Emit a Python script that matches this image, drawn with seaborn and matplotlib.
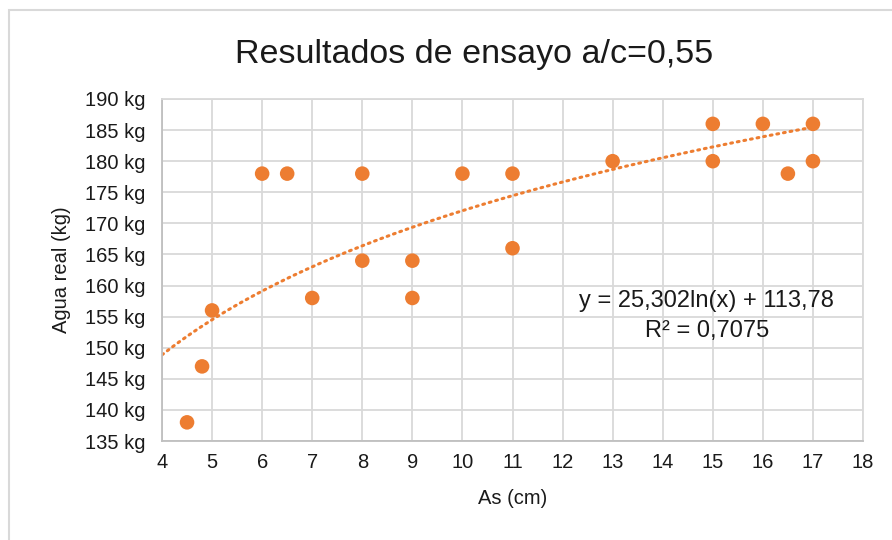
import numpy as np
import pandas as pd
import matplotlib
matplotlib.use("Agg")
import matplotlib.pyplot as plt
import seaborn as sns
from matplotlib.patches import Rectangle

# Data
as_cm = [4.5, 4.8, 5, 6, 6.5, 7, 8, 8, 9, 9, 10, 11, 11, 13, 15, 15, 16, 16.5, 17, 17]
agua_kg = [138, 147, 156, 178, 178, 158, 178, 164, 164, 158, 178, 178, 166, 180, 186, 180, 186, 178, 186, 180]

# Logarithmic trendline as reported on the chart
trend_a = 25.302
trend_b = 113.78
trend_r2 = 0.7075

x_ticks = list(range(4, 19))
y_ticks = list(range(135, 191, 5))

orange = "#ED7D31"

sns.set_theme(style="white")
plt.rcParams["font.family"] = ["Liberation Sans", "DejaVu Sans"]

fig = plt.figure(figsize=(8.92, 5.40), dpi=100)
ax = fig.add_axes([162 / 892, 1 - 441 / 540, (863 - 162) / 892, (441 - 99) / 540])

df = pd.DataFrame({"As": as_cm, "Agua": agua_kg})
sns.scatterplot(data=df, x="As", y="Agua", ax=ax, color=orange, s=110,
                edgecolor="none", zorder=3)

xt = np.linspace(4, max(as_cm), 200)
ax.plot(xt, trend_a * np.log(xt) + trend_b, color=orange, linestyle=(0, (0.6, 1.6)),
        linewidth=2.2, dash_capstyle="round", zorder=2)

ax.set_xlim(4, 18)
ax.set_ylim(135, 190)
ax.set_xticks(x_ticks)
ax.set_yticks(y_ticks)
ax.set_yticklabels([f"{v} kg" for v in y_ticks])
ax.grid(True, color="#d9d9d9", linewidth=1.3)
ax.set_axisbelow(True)
for s in ax.spines.values():
    s.set_visible(True)
    s.set_color("#d9d9d9")
    s.set_linewidth(1.3)
ax.spines["left"].set_color("#bfbfbf")
ax.spines["bottom"].set_color("#bfbfbf")
ax.tick_params(axis="both", length=0, labelsize=14.5, colors="#1a1a1a")
ax.tick_params(axis="y", pad=12)
ax.tick_params(axis="x", pad=9)

ax.set_xlabel("As (cm)", fontsize=14.5, color="#1a1a1a", labelpad=12)
ax.set_ylabel("Agua real (kg)", fontsize=14.5, color="#1a1a1a", labelpad=10)

ax.text(0.777, 0.408, f"y = {trend_a:.3f}ln(x) + {trend_b:.2f}".replace(".", ","),
        transform=ax.transAxes, ha="center", va="center", fontsize=17, color="#1a1a1a")
ax.text(0.777, 0.322, f"R² = {trend_r2:.4f}".replace(".", ","),
        transform=ax.transAxes, ha="center", va="center", fontsize=17, color="#1a1a1a")

fig.text(474 / 892, 1 - 54 / 540, "Resultados de ensayo a/c=0,55", ha="center",
         va="center", fontsize=24.5, color="#1a1a1a")

# outer chart frame
fig.patches.append(Rectangle((9 / 892, -0.05), 1.1, 1 - 10 / 540 + 0.05,
                             transform=fig.transFigure, fill=False,
                             edgecolor="#d9d9d9", linewidth=1.5))

fig.savefig("out.png", dpi=100)
